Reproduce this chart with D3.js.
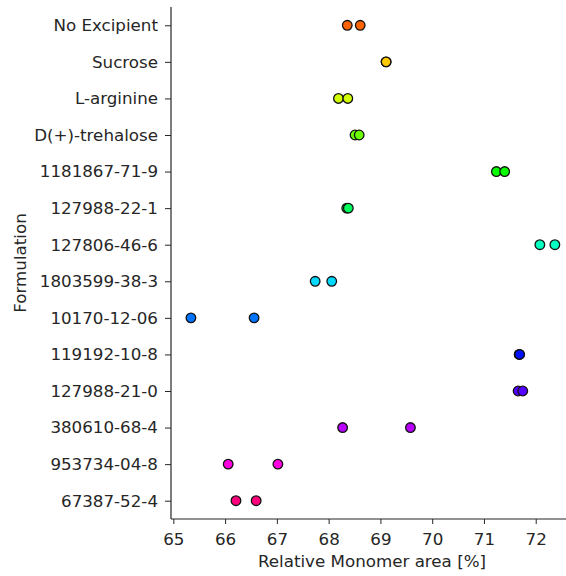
<!DOCTYPE html>
<html>
<head>
<meta charset="utf-8">
<script src="https://cdn.jsdelivr.net/npm/d3@7"></script>
<style>
  body { margin: 0; background: #fff; }
  svg { display: block; font-family: "DejaVu Sans", sans-serif; }
</style>
</head>
<body>
<div class="chart"></div>
<script>
// Formulations, top to bottom
const formulations = [
  "No Excipient", "Sucrose", "L-arginine", "D(+)-trehalose", "1181867-71-9",
  "127988-22-1", "127806-46-6", "1803599-38-3", "10170-12-06", "119192-10-8",
  "127988-21-0", "380610-68-4", "953734-04-8", "67387-52-4"
];
// two replicate measurements per formulation (relative monomer area, %)
const rep1 = [68.36, 69.11, 68.19, 68.51, 71.24, 68.35, 72.08, 67.74, 65.34, 71.68, 71.66, 68.27, 66.06, 66.21];
const rep2 = [68.61, 69.11, 68.37, 68.59, 71.40, 68.38, 72.37, 68.06, 66.56, 71.69, 71.75, 69.58, 67.02, 66.60];
const xTicks = [65, 66, 67, 68, 69, 70, 71, 72];

const width = 566, height = 576;
const margin = { top: 7, right: 0, bottom: 57, left: 171 };
const fontSize = "16.7px";
const ink = "#262626";

// matplotlib "hsv" colormap, piecewise linear per channel
const hsvR = d3.scaleLinear()
  .domain([0, 0.15873, 0.174603, 0.333333, 0.349206, 0.666667, 0.68254, 0.84127, 0.857143, 1])
  .range([1, 1, 0.96875, 0.03125, 0, 0, 0.03125, 0.96875, 1, 1]);
const hsvG = d3.scaleLinear()
  .domain([0, 0.15873, 0.174603, 0.507937, 0.666667, 0.68254, 1])
  .range([0, 0.9375, 1, 1, 0.0625, 0, 0]);
const hsvB = d3.scaleLinear()
  .domain([0, 0.333333, 0.349206, 0.507937, 0.84127, 0.857143, 1])
  .range([0, 0, 0.0625, 1, 1, 0.9375, 0.09375]);
const hsv = t => d3.rgb(hsvR(t) * 255, hsvG(t) * 255, hsvB(t) * 255).formatHex();

const svg = d3.create("svg")
  .attr("width", width)
  .attr("height", height);

const x = d3.scaleLinear()
  .domain([64.955, 72.585])
  .range([margin.left, width - margin.right]);

const y = d3.scalePoint()
  .domain(formulations)
  .range([margin.top, height - margin.bottom])
  .padding(0.5);

const color = d3.scaleOrdinal()
  .domain(formulations)
  .range(formulations.map((d, i) => hsv((i + 1) / (formulations.length + 1))));

const points = [];
formulations.forEach((f, i) => {
  points.push({ f: f, v: rep1[i] });
  points.push({ f: f, v: rep2[i] });
});

// axes
const xAxis = svg.append("g")
  .attr("transform", `translate(0,${height - margin.bottom})`)
  .call(d3.axisBottom(x).tickValues(xTicks).tickSize(5).tickPadding(9).tickFormat(d3.format("d")));

const yAxis = svg.append("g")
  .attr("transform", `translate(${margin.left},0)`)
  .call(d3.axisLeft(y).tickSize(6).tickPadding(7));

[xAxis, yAxis].forEach(ax => {
  ax.select(".domain").attr("stroke", ink).attr("stroke-width", 1.2);
  ax.selectAll(".tick line").attr("stroke", ink).attr("stroke-width", 1);
  ax.selectAll("text").attr("fill", ink).style("font-size", fontSize)
    .style("font-family", "'DejaVu Sans', sans-serif");
});
xAxis.select(".domain").attr("d", `M${margin.left},0H${width}`);
yAxis.select(".domain").attr("d", `M0,${margin.top}V${height - margin.bottom}`);

// points
svg.append("g")
  .selectAll("circle")
  .data(points)
  .join("circle")
  .attr("cx", d => x(d.v))
  .attr("cy", d => y(d.f))
  .attr("r", 4.8)
  .attr("fill", d => color(d.f))
  .attr("stroke", "#111")
  .attr("stroke-width", 1.3);

// axis titles
svg.append("text")
  .attr("x", 372)
  .attr("y", 567)
  .attr("text-anchor", "middle")
  .attr("fill", ink)
  .style("font-size", fontSize)
  .text("Relative Monomer area [%]");

svg.append("text")
  .attr("transform", `translate(26,${(margin.top + height - margin.bottom) / 2}) rotate(-90)`)
  .attr("text-anchor", "middle")
  .attr("fill", ink)
  .style("font-size", fontSize)
  .text("Formulation");

document.querySelector(".chart").appendChild(svg.node());
</script>
</body>
</html>
